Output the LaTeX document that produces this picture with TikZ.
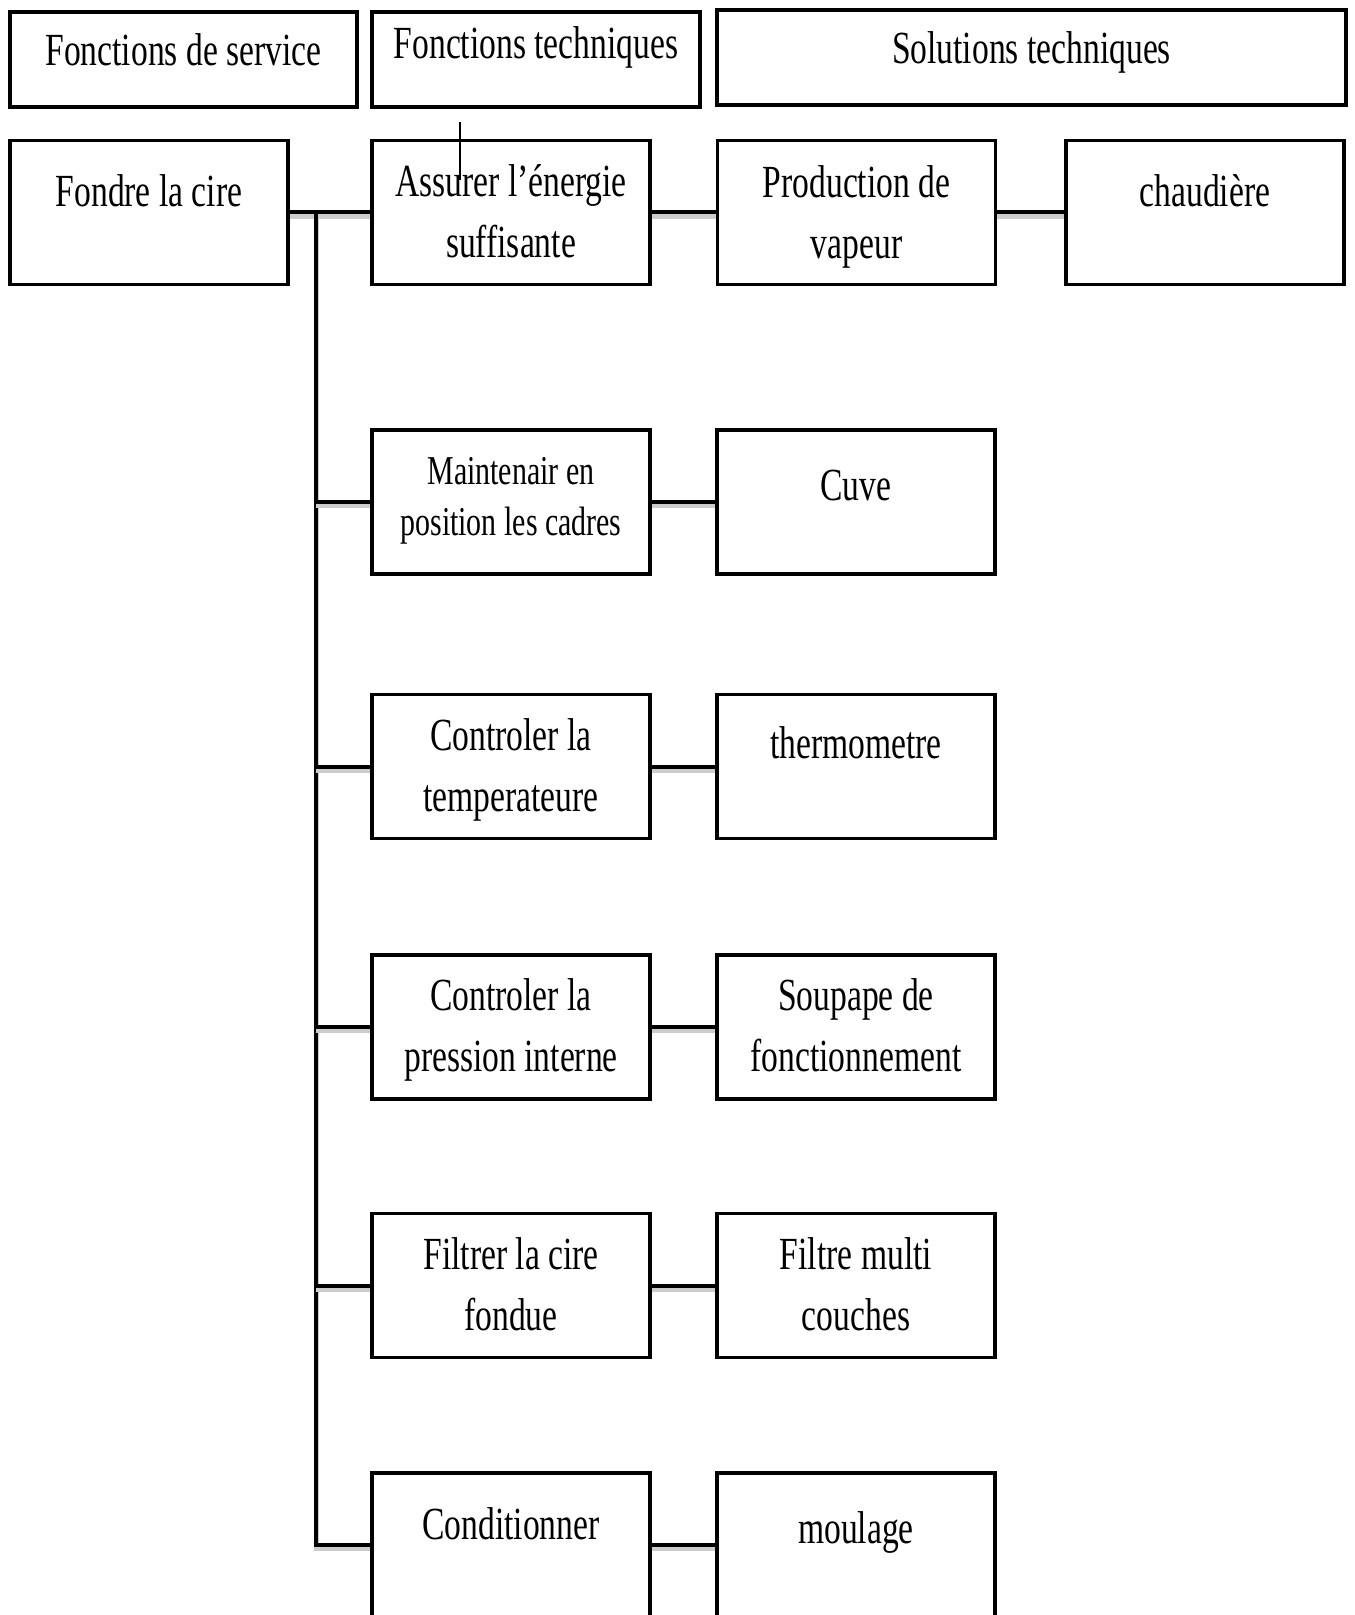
\documentclass[tikz,border=0pt]{standalone}
\usepackage{fontspec}
\setmainfont{Liberation Serif}[FakeStretch=0.73]
\usetikzlibrary{positioning}
\newcommand{\police}{\fontsize{23}{30.5}\selectfont}
\newcommand{\petitepolice}{\fontsize{20.5}{25.5}\selectfont}
\tikzset{
  cadre/.style={draw,line width=1.75pt,inner sep=0pt,minimum width=139pt,minimum height=72pt},
  entete/.style={cadre,minimum height=47.5pt},
  texte/.style={align=center,inner sep=0pt,font=\police},
  lien/.style={line width=2pt,preaction={draw=black!20,line width=2.5pt,transform canvas={yshift=-1.8pt}}},
}
\begin{document}
\begin{tikzpicture}[x=0.5pt,y=0.5pt]
  \clip (0,0) rectangle (1354,-1615);
  % en-tetes
  \node[entete,minimum width=173.5pt] (fs) at (183.5,-59.5) {};
  \node[entete,minimum width=164pt] (ft) at (536,-59.5) {};
  \node[entete,minimum width=314.5pt] (st) at (1031.5,-57.5) {};
  \node[texte,below=6.15pt of fs.north] (fs-t) {\strut Fonctions de service};
  \node[texte,below=2.65pt of ft.north] (ft-t) {\strut Fonctions techniques};
  \node[texte,below=6.15pt of st.north] (st-t) {\strut Solutions techniques};
  % premiere ligne
  \node[cadre] (fs1) at (149,-212.5) {};
  \node[cadre] (ft1) at (511,-212.5) {};
  \node[cadre] (st1) at (856.5,-212.5) {};
  \node[cadre] (st1b) at (1205,-212.5) {};
  \node[texte,below=12.15pt of fs1.north] (fs1-t) {\strut Fondre la cire};
  \node[texte,below=7.15pt of ft1.north] (ft1-t) {\strut Assurer l’énergie\\suffisante};
  \node[texte,below=7.65pt of st1.north] (st1-t) {\strut Production de\\vapeur};
  \node[texte,below=12.15pt of st1b.north] (st1b-t) {\strut chaudière};
  % fonctions techniques et solutions
  \node[cadre] (ft2) at (511,-502) {};
  \node[cadre] (st2) at (856,-502) {};
  \node[cadre] (ft3) at (511,-766.5) {};
  \node[cadre] (st3) at (856,-766.5) {};
  \node[cadre] (ft4) at (511,-1027) {};
  \node[cadre] (st4) at (856,-1027) {};
  \node[cadre] (ft5) at (511,-1285.5) {};
  \node[cadre] (st5) at (856,-1285.5) {};
  \node[cadre] (ft6) at (511,-1545) {};
  \node[cadre] (st6) at (856,-1545) {};
  \node[texte,font=\petitepolice,below=10.15pt of ft2.north] (ft2-t) {\strut Maintenair en\\position les cadres};
  \node[texte,below=14.65pt of st2.north] (st2-t) {\strut Cuve};
  \node[texte,below=7.15pt of ft3.north] (ft3-t) {\strut Controler la\\temperateure};
  \node[texte,below=11.15pt of st3.north] (st3-t) {\strut thermometre};
  \node[texte,below=7.15pt of ft4.north] (ft4-t) {\strut Controler la\\pression interne};
  \node[texte,below=7.15pt of st4.north] (st4-t) {\strut Soupape de\\fonctionnement};
  \node[texte,below=7.15pt of ft5.north] (ft5-t) {\strut Filtrer la cire\\fondue};
  \node[texte,below=7.15pt of st5.north] (st5-t) {\strut Filtre multi\\couches};
  \node[texte,below=12.65pt of ft6.north] (ft6-t) {\strut Conditionner};
  \node[texte,below=14.65pt of st6.north] (st6-t) {\strut moulage};
  % liaisons
  \coordinate (bus) at (316,-212.5);
  \draw[lien] (fs1.east) -- (ft1.west);
  \draw[lien] (ft1.east) -- (st1.west);
  \draw[lien] (st1.east) -- (st1b.west);
  \draw[lien] (bus) |- (ft6.west);
  \foreach \i in {2,...,5}
    \draw[lien] (bus |- ft\i.west) -- (ft\i.west);
  \foreach \i in {2,...,6}
    \draw[lien] (ft\i.east) -- (st\i.west);
  \draw[line width=1pt] (460,-122) -- (460,-180);
\end{tikzpicture}
\end{document}
